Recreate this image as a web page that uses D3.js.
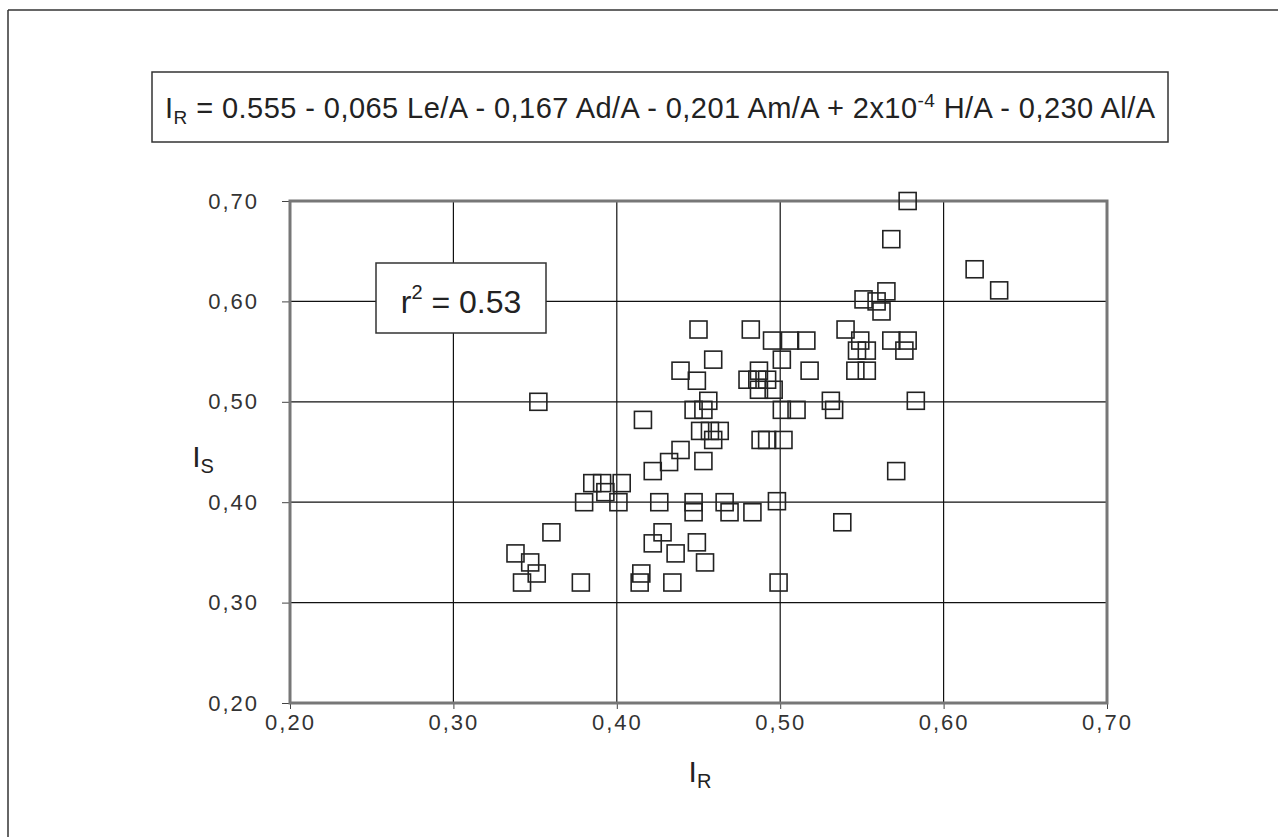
<!DOCTYPE html>
<html>
<head>
<meta charset="utf-8">
<script src="https://cdn.jsdelivr.net/npm/d3@7"></script>
<style>
  body { margin: 0; background: #fff; }
  svg { font-family: "Liberation Sans", Arial, sans-serif; }
</style>
</head>
<body>
<svg class="s"></svg>
<script>
var w = 1278;
var h = 837;

// I_R values (x) and I_S values (y)
var irValues = [0.352,0.416,0.439,0.450,0.439,0.578,0.568,0.619,0.634,0.565,
  0.551,0.559,0.562,0.482,0.495,0.506,0.516,0.540,0.549,0.568,
  0.578,0.576,0.547,0.553,0.546,0.553,0.459,0.501,0.518,0.449,
  0.487,0.480,0.486,0.492,0.487,0.496,0.447,0.453,0.456,0.501,
  0.510,0.531,0.533,0.583,0.451,0.457,0.463,0.459,0.488,0.492,
  0.502,0.453,0.571,0.447,0.466,0.498,0.447,0.469,0.483,0.538,
  0.449,0.454,0.499,0.432,0.422,0.385,0.391,0.403,0.393,0.380,
  0.401,0.426,0.360,0.428,0.422,0.436,0.338,0.347,0.351,0.342,
  0.378,0.415,0.414,0.434];
var isValues = [0.500,0.482,0.531,0.572,0.452,0.700,0.662,0.632,0.611,0.610,
  0.602,0.600,0.590,0.572,0.561,0.561,0.561,0.572,0.561,0.561,
  0.561,0.551,0.551,0.551,0.531,0.531,0.542,0.542,0.531,0.521,
  0.531,0.522,0.522,0.522,0.512,0.512,0.492,0.492,0.501,0.492,
  0.492,0.501,0.492,0.501,0.471,0.471,0.471,0.462,0.462,0.462,
  0.462,0.441,0.431,0.400,0.400,0.401,0.390,0.390,0.390,0.380,
  0.360,0.340,0.320,0.440,0.431,0.419,0.419,0.419,0.410,0.400,
  0.400,0.400,0.370,0.370,0.359,0.349,0.349,0.340,0.329,0.320,
  0.320,0.329,0.320,0.320];

var xTicks = [0.20,0.30,0.40,0.50,0.60,0.70];
var yTicks = [0.20,0.30,0.40,0.50,0.60,0.70];

var points = irValues.map(function(v,i){ return {x:v, y:isValues[i]}; });

var svg = d3.select('.s')
            .attr('width',w)
            .attr('height',h);

// outer frame (top and left edge of the scanned page)
svg.append('line').attr('x1',8).attr('y1',10).attr('x2',w).attr('y2',10)
   .attr('stroke','#333').attr('stroke-width',1.5);
svg.append('line').attr('x1',8).attr('y1',10).attr('x2',8).attr('y2',h)
   .attr('stroke','#333').attr('stroke-width',1.5);

// equation box
svg.append('rect').attr('x',152).attr('y',72).attr('width',1016).attr('height',70)
   .attr('fill','#fff').attr('stroke','#333').attr('stroke-width',1.5);
var eq = svg.append('text').attr('x',660).attr('y',118)
            .attr('text-anchor','middle').attr('font-size',29).attr('fill','#222')
            .attr('textLength',990).attr('lengthAdjust','spacing');
eq.append('tspan').text('I');
eq.append('tspan').attr('font-size',19).attr('dy',6).text('R');
eq.append('tspan').attr('dy',-6).text(' = 0.555 - 0,065 Le/A - 0,167 Ad/A - 0,201 Am/A + 2x10');
eq.append('tspan').attr('font-size',19).attr('dy',-11).text('-4');
eq.append('tspan').attr('dy',11).text(' H/A - 0,230 Al/A');

var x = d3.scaleLinear().domain([0.2,0.7]).range([290,1107]);
var y = d3.scaleLinear().domain([0.2,0.7]).range([703,201]);

var fmt = function(d){ return d3.format('.2f')(d).replace('.',','); };

// gridlines
svg.append('g').selectAll('line').data(xTicks.slice(1,-1)).enter().append('line')
   .attr('x1',function(d){ return x(d); }).attr('x2',function(d){ return x(d); })
   .attr('y1',y(0.7)).attr('y2',y(0.2))
   .attr('stroke','#111').attr('stroke-width',1.2);
svg.append('g').selectAll('line').data(yTicks.slice(1,-1)).enter().append('line')
   .attr('x1',x(0.2)).attr('x2',x(0.7))
   .attr('y1',function(d){ return y(d); }).attr('y2',function(d){ return y(d); })
   .attr('stroke','#111').attr('stroke-width',1.2);

// axes
var xAxis = svg.append('g').attr('transform','translate(0,'+y(0.2)+')')
   .call(d3.axisBottom(x).tickValues(xTicks).tickFormat(fmt).tickSize(6).tickPadding(5));
var yAxis = svg.append('g').attr('transform','translate('+x(0.2)+',0)')
   .call(d3.axisLeft(y).tickValues(yTicks).tickFormat(fmt).tickSize(8).tickPadding(23));
[xAxis,yAxis].forEach(function(a){
  a.select('.domain').remove();
  a.selectAll('line').attr('stroke','#444');
  a.selectAll('text').attr('font-size',22).attr('fill','#333')
   .attr('letter-spacing',2)
   .attr('font-family','"Liberation Sans", Arial, sans-serif');
});

// plot border
svg.append('rect').attr('x',x(0.2)).attr('y',y(0.7))
   .attr('width',x(0.7)-x(0.2)).attr('height',y(0.2)-y(0.7))
   .attr('fill','none').attr('stroke','#777').attr('stroke-width',3);

// r2 box
svg.append('rect').attr('x',376).attr('y',263).attr('width',170).attr('height',70)
   .attr('fill','#fff').attr('stroke','#333').attr('stroke-width',1.5);
var r2 = svg.append('text').attr('x',461).attr('y',313).attr('text-anchor','middle')
   .attr('font-size',32).attr('fill','#222');
r2.append('tspan').text('r');
r2.append('tspan').attr('font-size',20).attr('dy',-14).text('2');
r2.append('tspan').attr('dy',14).text(' = 0.53');

// markers
var s = 17;
svg.append('g').selectAll('rect').data(points).enter().append('rect')
   .attr('x',function(d){ return x(d.x)-s/2; })
   .attr('y',function(d){ return y(d.y)-s/2; })
   .attr('width',s).attr('height',s)
   .attr('fill','none').attr('stroke','#222').attr('stroke-width',1.6);

// axis titles
var xt = svg.append('text').attr('x',700).attr('y',782).attr('text-anchor','middle')
   .attr('font-size',30).attr('fill','#222');
xt.append('tspan').text('I');
xt.append('tspan').attr('font-size',20).attr('dy',6).text('R');
var yt = svg.append('text').attr('x',203).attr('y',467).attr('text-anchor','middle')
   .attr('font-size',30).attr('fill','#222');
yt.append('tspan').text('I');
yt.append('tspan').attr('font-size',20).attr('dy',6).text('S');
</script>
</body>
</html>
